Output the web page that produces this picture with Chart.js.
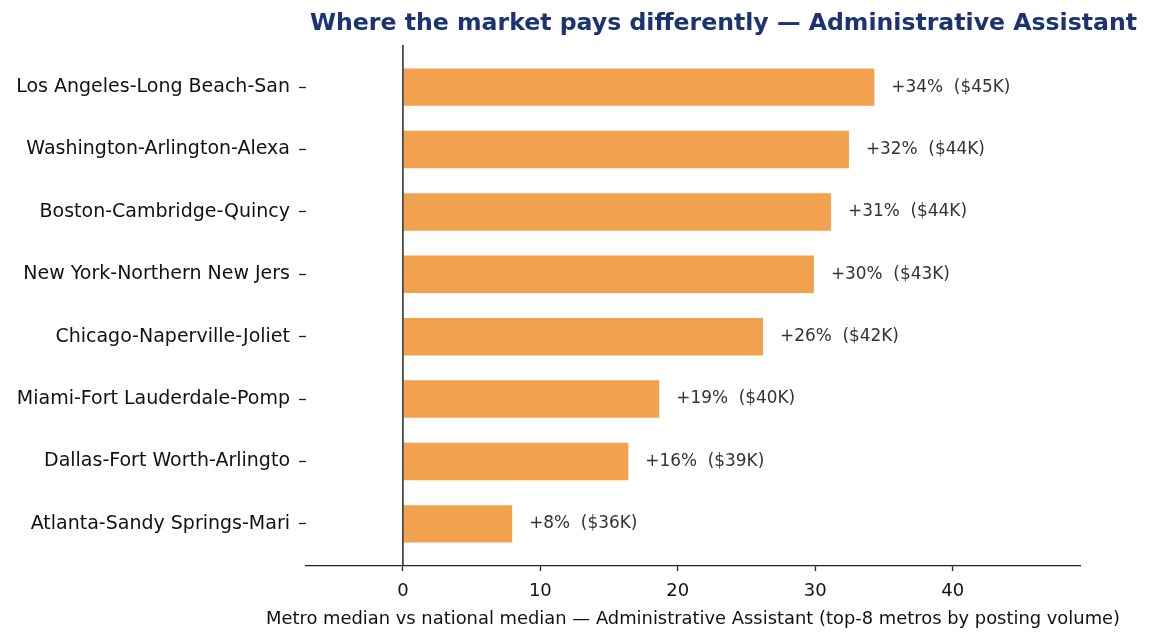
<!DOCTYPE html>
<html>
<head>
<meta charset="utf-8">
<script src="https://cdn.jsdelivr.net/npm/chart.js@4"></script>
<style>
    html, body { margin: 0; padding: 0; background: #fff; }
    #wrap { width: 1151px; height: 644px; }
</style>
</head>
<body>
<div id="wrap"><canvas id="chart" width="1151" height="644"></canvas></div>
<script>
const metros = [
    "Los Angeles-Long Beach-San",
    "Washington-Arlington-Alexa",
    "Boston-Cambridge-Quincy",
    "New York-Northern New Jers",
    "Chicago-Naperville-Joliet",
    "Miami-Fort Lauderdale-Pomp",
    "Dallas-Fort Worth-Arlingto",
    "Atlanta-Sandy Springs-Mari"
];
const premiumPct = [34.3, 32.45, 31.15, 29.9, 26.2, 18.65, 16.4, 7.95];
const medianK = [45, 44, 44, 43, 42, 40, 39, 36];
const xTicks = [0, 10, 20, 30, 40];

const chartTitle = "Where the market pays differently — Administrative Assistant";
const xTitle = "Metro median vs national median — Administrative Assistant (top-8 metros by posting volume)";

const font = "'DejaVu Sans', sans-serif";

// vertical line at zero, titles and value labels
const extras = {
    id: "extras",
    afterDatasetsDraw(chart) {
        const { ctx, chartArea, scales } = chart;
        const x0 = scales.x.getPixelForValue(0);
        ctx.save();
        ctx.strokeStyle = "#333";
        ctx.lineWidth = 1.6;
        ctx.beginPath();
        ctx.moveTo(x0, chartArea.top);
        ctx.lineTo(x0, chartArea.bottom);
        ctx.stroke();

        const meta = chart.getDatasetMeta(0);
        ctx.font = "16.9px " + font;
        ctx.fillStyle = "#333";
        ctx.textAlign = "left";
        ctx.textBaseline = "middle";
        meta.data.forEach((bar, i) => {
            const label = "+" + Math.round(premiumPct[i]) + "%  ($" + medianK[i] + "K)";
            ctx.fillText(label, bar.x + 17, bar.y);
        });

        // x axis title, centred under the plot area
        ctx.font = "17.9px " + font;
        ctx.fillStyle = "#111";
        ctx.textAlign = "center";
        ctx.fillText(xTitle, (chartArea.left + chartArea.right) / 2, 619);

        ctx.font = "bold 23.6px " + font;
        ctx.fillStyle = "#1b3370";
        ctx.textAlign = "right";
        ctx.fillText(chartTitle, 1137, 24);
        ctx.restore();
    }
};

new Chart(document.getElementById("chart"), {
    type: "bar",
    data: {
        datasets: [{
            data: premiumPct.map((v, i) => ({ x: v, y: i })),
            backgroundColor: "#f2a14e",
            categoryPercentage: 0.6,
            barPercentage: 1
        }]
    },
    options: {
        indexAxis: "y",
        responsive: false,
        animation: false,
        layout: { padding: { top: 45, right: 71, left: 0, bottom: 0 } },
        plugins: {
            legend: { display: false },
            tooltip: { enabled: false }
        },
        scales: {
            x: {
                type: "linear",
                min: -7.05,
                max: 49.26,
                afterBuildTicks: (axis) => { axis.ticks = xTicks.map(v => ({ value: v })); },
                afterFit: (axis) => { axis.height = 78; },
                border: { display: true, color: "#222", width: 1.3 },
                grid: { drawOnChartArea: false, tickLength: 5, color: "#222", tickWidth: 1.3 },
                ticks: { color: "#111", padding: 10, font: { family: font, size: 18 } }
            },
            y: {
                type: "linear",
                reverse: true,
                offset: false,
                min: -0.675,
                max: 7.675,
                afterBuildTicks: (axis) => { axis.ticks = metros.map((m, i) => ({ value: i })); },
                afterFit: (axis) => { axis.width = 306; },
                border: { display: false },
                grid: { offset: false, drawOnChartArea: false, tickLength: 7, color: "#222", tickWidth: 1.3 },
                ticks: {
                    color: "#111",
                    padding: 9,
                    font: { family: font, size: 19 },
                    callback: (v) => metros[v]
                }
            }
        }
    },
    plugins: [extras]
});
</script>
</body>
</html>
